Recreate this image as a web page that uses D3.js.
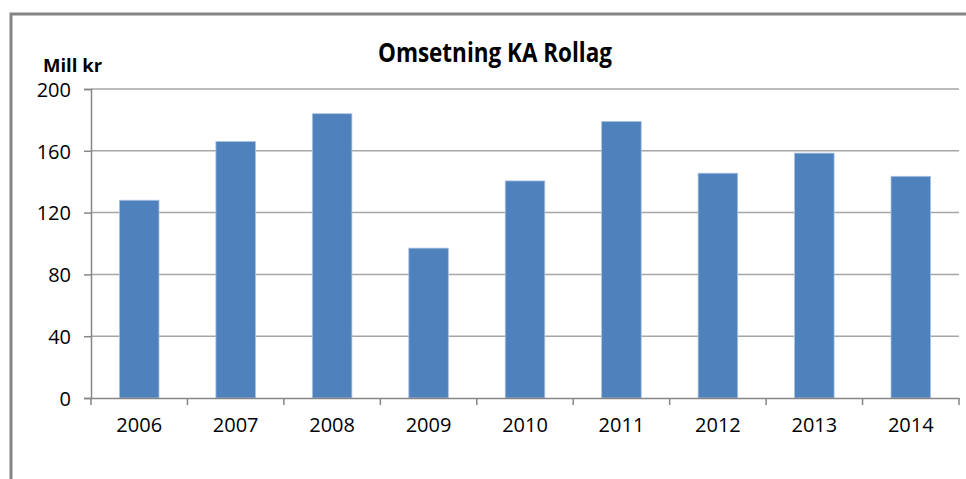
<!DOCTYPE html>
<html>
<head>
<meta charset="utf-8">
<script src="https://cdn.jsdelivr.net/npm/d3@7"></script>
<style>
  body { margin: 0; background: #fff; }
  svg text { font-family: "Open Sans", Lato, sans-serif; fill: #000; }
</style>
</head>
<body>
<svg id="chart" width="966" height="479"></svg>
<script>
// chart data
const years = ["2006", "2007", "2008", "2009", "2010", "2011", "2012", "2013", "2014"];
const omsetning = [128, 166, 184, 97, 140.5, 179, 145.5, 158.5, 143.5];
const yTicks = [0, 40, 80, 120, 160, 200];

const svg = d3.select("svg#chart");

// outer frame (only top and left edges visible)
svg.append("path")
  .attr("d", "M11,479 V14 H966")
  .attr("fill", "none")
  .attr("stroke", "#858585")
  .attr("stroke-width", 3);

const plot = { left: 91, right: 959, top: 89, bottom: 398 };

const x = d3.scaleBand().domain(years).range([plot.left, plot.right]).paddingInner(0.59).paddingOuter(0.295);
const xTick = d3.scaleBand().domain(years).range([plot.left, plot.right]);
const y = d3.scaleLinear().domain([0, 200]).range([plot.bottom, plot.top]);

// gridlines
svg.append("g").selectAll("line")
  .data(yTicks.filter(d => d > 0))
  .enter().append("line")
  .attr("x1", plot.left).attr("x2", plot.right)
  .attr("y1", d => y(d)).attr("y2", d => y(d))
  .attr("stroke", "#a6a6a6").attr("stroke-width", 1.5);

// bars
svg.append("g").selectAll("rect")
  .data(omsetning)
  .enter().append("rect")
  .attr("x", (d, i) => x(years[i]))
  .attr("y", d => y(d))
  .attr("width", x.bandwidth())
  .attr("height", d => plot.bottom - y(d))
  .attr("fill", "#4f81bd")
  .attr("stroke", "#a9c2e3")
  .attr("stroke-width", 0.8);

// y axis
const yAxis = d3.axisLeft(y).tickValues(yTicks).tickSize(7).tickPadding(13);
const yg = svg.append("g").attr("transform", translate(plot.left, 0)).call(yAxis);
yg.select(".domain").attr("stroke", "#868686").attr("stroke-width", 1.5);
yg.selectAll(".tick line").attr("stroke", "#868686").attr("stroke-width", 1.5);
yg.selectAll("text").attr("font-size", 20).attr("dy", "0.36em");

// x axis
const xAxis = d3.axisBottom(xTick).tickSize(0).tickPadding(20);
const xg = svg.append("g").attr("transform", translate(0, plot.bottom)).call(xAxis);
xg.select(".domain").attr("stroke", "#868686").attr("stroke-width", 1.5);
xg.selectAll("text").attr("font-size", 20);
// category separator ticks
xg.selectAll("line.sep")
  .data(d3.range(years.length + 1))
  .enter().append("line")
  .attr("class", "sep")
  .attr("x1", i => plot.left + i * xTick.step())
  .attr("x2", i => plot.left + i * xTick.step())
  .attr("y1", 0).attr("y2", 7)
  .attr("stroke", "#868686").attr("stroke-width", 1.5);

// title and unit label
svg.append("text")
  .attr("x", 378).attr("y", 62)
  .attr("font-size", 26).attr("font-weight", "bold")
  .attr("textLength", 234).attr("lengthAdjust", "spacingAndGlyphs")
  .text("Omsetning KA Rollag");

svg.append("text")
  .attr("x", 43).attr("y", 72)
  .attr("font-size", 18.5).attr("font-weight", "bold")
  .text("Mill kr");

function translate(x, y) {
  return "translate(" + String(x) + "," + String(y) + ")";
}
</script>
</body>
</html>
